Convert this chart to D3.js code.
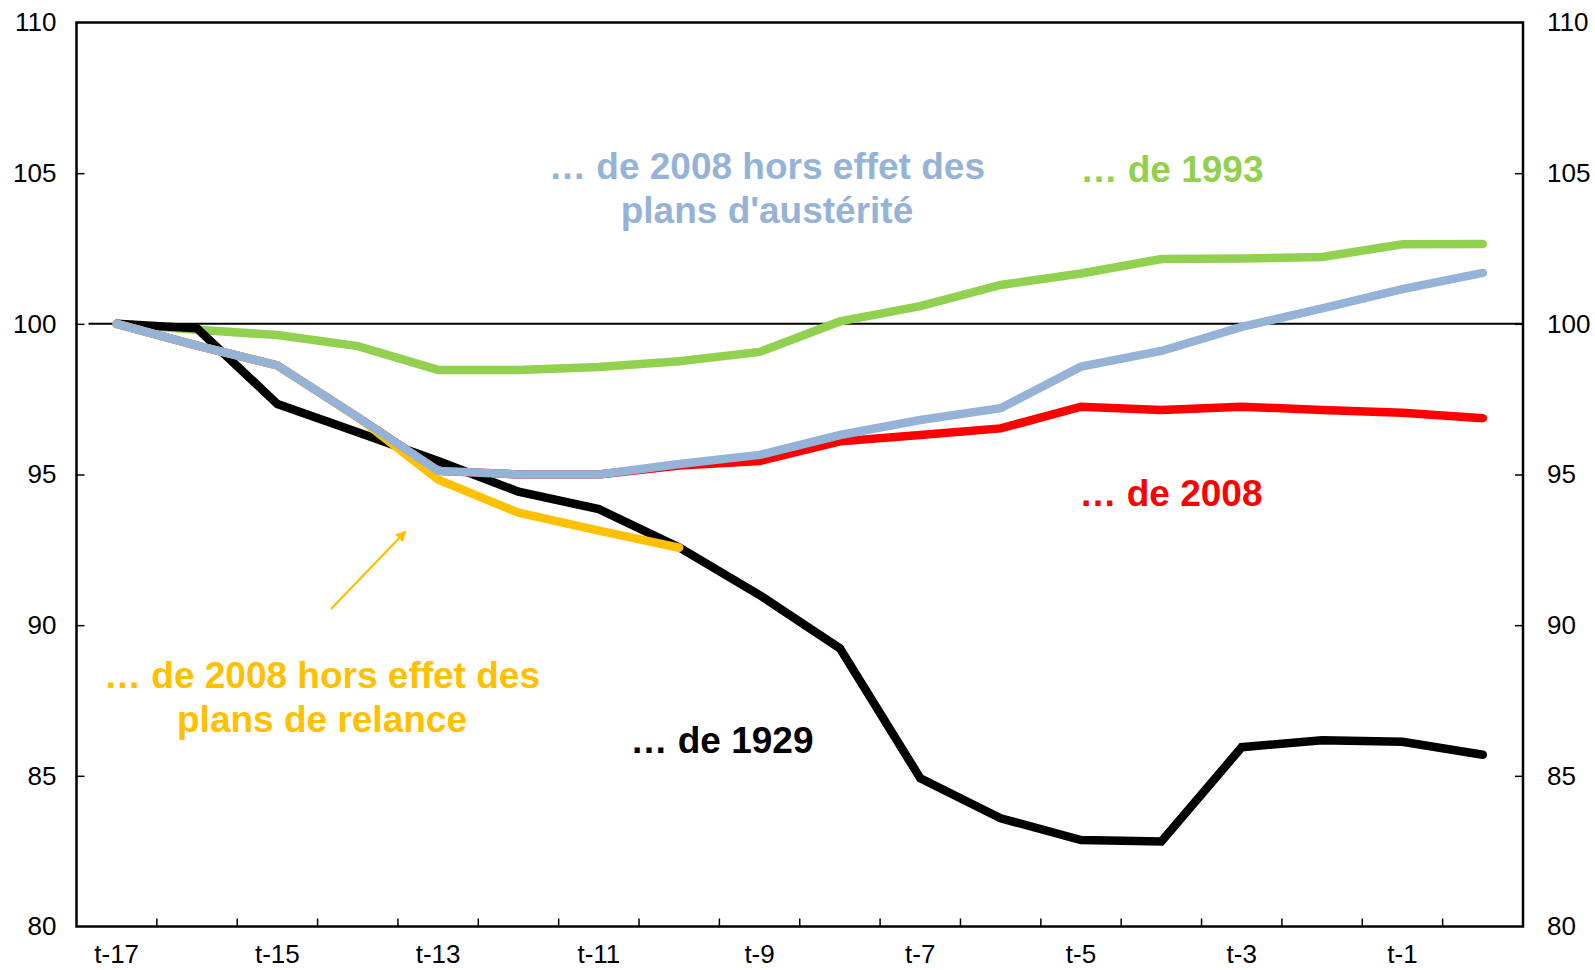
<!DOCTYPE html>
<html>
<head>
<meta charset="utf-8">
<script src="https://cdn.jsdelivr.net/npm/d3@7"></script>
<style>
  html, body { margin: 0; padding: 0; background: #fff; }
  svg { display: block; }
  text { font-family: "Liberation Sans", Arial, sans-serif; }
</style>
</head>
<body>
<svg id="chart" width="1595" height="970"></svg>
<script>
const categories = ["t-17","t-16","t-15","t-14","t-13","t-12","t-11","t-10","t-9","t-8","t-7","t-6","t-5","t-4","t-3","t-2","t-1","t0"];
const tickLabels = ["t-17","t-15","t-13","t-11","t-9","t-7","t-5","t-3","t-1"];
const yTicks = [80, 85, 90, 95, 100, 105, 110];

const s1929 = [100, 99.85, 97.34, 96.4, 95.45, 94.43, 93.85, 92.58, 91.0, 89.23, 84.92, 83.59, 82.87, 82.82, 85.95, 86.18, 86.13, 85.7];
const s1993 = [100, 99.8, 99.63, 99.26, 98.47, 98.47, 98.57, 98.76, 99.07, 100.08, 100.59, 101.29, 101.67, 102.15, 102.17, 102.22, 102.64, 102.65];
const s2008 = [100, 99.28, 98.62, 96.9, 95.12, 95.0, 95.0, 95.3, 95.45, 96.1, 96.31, 96.53, 97.25, 97.14, 97.25, 97.14, 97.05, 96.87];
const s2008Relance = [100, 99.28, 98.62, 96.9, 94.83, 93.73, 93.14, 92.57, null, null, null, null, null, null, null, null, null, null];
const s2008Austerite = [100, 99.28, 98.62, 96.9, 95.12, 95.0, 95.0, 95.35, 95.65, 96.31, 96.81, 97.2, 98.58, 99.1, 99.9, 100.51, 101.15, 101.69];

const seriesNames = ["… de 1993", "… de 1929", "… de 2008", "… de 2008 hors effet des plans de relance", "… de 2008 hors effet des plans d'austérité"];
const seriesColors = ["#92D050", "#000000", "#FF0000", "#FFC000", "#95B3D7"];

const svg = d3.select("#chart");
const L = 76.5, R = 1523, T = 22.5, B = 926.5;

const x = d3.scaleBand().domain(categories).range([L, R]).padding(0);
const y = d3.scaleLinear().domain([80, 110]).range([B, T]);
const cx = d => x(d) + x.bandwidth() / 2;

// reference line at 100
svg.append("line")
  .attr("x1", L + 12).attr("x2", R)
  .attr("y1", y(100)).attr("y2", y(100))
  .attr("stroke", "#000").attr("stroke-width", 2);

// series
const allSeries = [s1993, s1929, s2008, s2008Relance, s2008Austerite];
const line = d3.line()
  .defined(v => v !== null)
  .x((v, i) => cx(categories[i]))
  .y(v => y(v));

allSeries.forEach((s, k) => {
  svg.append("path")
    .datum(s)
    .attr("d", line)
    .attr("fill", "none")
    .attr("stroke", seriesColors[k])
    .attr("stroke-width", 8.5)
    .attr("stroke-linejoin", "miter")
    .attr("stroke-miterlimit", 4)
    .attr("stroke-linecap", "round");
});

// frame
svg.append("rect")
  .attr("x", L).attr("y", T).attr("width", R - L).attr("height", B - T)
  .attr("fill", "none").attr("stroke", "#000").attr("stroke-width", 2.5);

// left axis
const leftAxis = d3.axisLeft(y).tickValues(yTicks).tickSize(-8).tickPadding(20).tickFormat(d3.format("d"));
const gl = svg.append("g").attr("transform", `translate(${L},0)`).call(leftAxis);
// right axis
const rightAxis = d3.axisRight(y).tickValues(yTicks).tickSize(-8).tickPadding(24).tickFormat(d3.format("d"));
const gr = svg.append("g").attr("transform", `translate(${R},0)`).call(rightAxis);
[gl, gr].forEach(g => {
  g.select(".domain").remove();
  g.selectAll(".tick line").attr("stroke", "#000").attr("stroke-width", 1.5)
    .filter(d => d === 80 || d === 110).remove();
  g.selectAll(".tick text").attr("font-size", 26).attr("fill", "#000")
    .attr("font-family", "'Liberation Sans', Arial, sans-serif");
});

// bottom axis: ticks at band boundaries, labels every other category
const boundaries = categories.slice(1).map(c => x(c));
svg.append("g").selectAll("line").data(boundaries).join("line")
  .attr("x1", d => d).attr("x2", d => d)
  .attr("y1", B).attr("y2", B - 8)
  .attr("stroke", "#000").attr("stroke-width", 1.5);
svg.append("g").selectAll("text").data(tickLabels).join("text")
  .attr("x", d => cx(d)).attr("y", 963)
  .attr("text-anchor", "middle").attr("font-size", 26).attr("fill", "#000")
  .text(d => d);

// annotations
const fs = 37;
function label(lines, xc, ycs, color) {
  lines.forEach((t, i) => {
    svg.append("text")
      .attr("x", xc).attr("y", ycs[i] + fs * 0.35)
      .attr("text-anchor", "middle")
      .attr("font-size", fs).attr("font-weight", "bold")
      .attr("fill", color).text(t);
  });
}
label(["… de 2008 hors effet des", "plans d'austérité"], 767, [166, 210.5], seriesColors[4]);
label(["… de 1993"], 1172, [169], seriesColors[0]);
label(["… de 2008"], 1171, [493], seriesColors[2]);
label(["… de 1929"], 722, [740.5], seriesColors[1]);
label(["… de 2008 hors effet des", "plans de relance"], 322, [675.5, 719], seriesColors[3]);

// arrow
const defs = svg.append("defs");
defs.append("marker").attr("id", "arr").attr("viewBox", "0 0 10 10")
  .attr("refX", 8).attr("refY", 5).attr("markerWidth", 5).attr("markerHeight", 5)
  .attr("orient", "auto")
  .append("path").attr("d", "M0,0 L10,5 L0,10 z").attr("fill", "#FFC000");
svg.append("line")
  .attr("x1", 331).attr("y1", 609).attr("x2", 405).attr("y2", 532)
  .attr("stroke", "#FFC000").attr("stroke-width", 2.2)
  .attr("marker-end", "url(#arr)");
</script>
</body>
</html>
